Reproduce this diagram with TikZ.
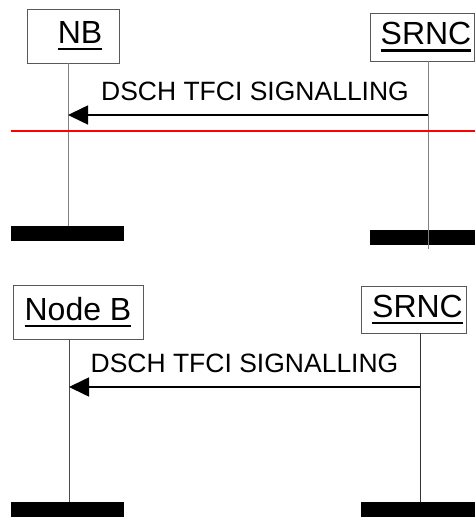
\documentclass[tikz,border=0pt]{standalone}
\usepackage{fontspec}
\setmainfont{Liberation Sans}
\usetikzlibrary{arrows.meta}
\newcommand{\ulname}[1]{\vtop{\hbox{#1}\kern4pt\hrule height 2.5pt}}

\begin{document}
\begin{tikzpicture}[x=1pt, y=-1pt,
    entity/.style={draw=black!65, line width=0.9pt, fill=white, inner sep=0pt, font=\fontsize{32}{36}\selectfont},
    endbar/.style={fill=black, inner sep=0pt, minimum height=15pt},
    lifeline/.style={draw=black!50, line width=1pt},
    msg/.style={-{Triangle[length=20pt, width=19pt]}, line width=1.6pt},
    msglabel/.style={font=\fontsize{26.5}{30}\selectfont, inner sep=0pt, above=13pt}]
    \useasboundingbox (0,0) rectangle (475,526);

    % upper chart
    \node[entity, minimum width=92pt, minimum height=54pt] (nbA) at (73,36) {\hspace{14pt}\ulname{NB}};
    \node[entity, minimum width=104pt, minimum height=48pt] (srncA) at (422,37) {\hspace{8pt}\ulname{SRNC}};
    \node[endbar, minimum width=113pt] (nbAbar) at (67.5,233.5) {};
    \node[endbar, minimum width=105pt] (srncAbar) at (422.5,237.5) {};
    \coordinate (nbAx) at (68,0);
    \coordinate (srncAx) at (428,249);
    \draw[lifeline] (nbAx |- nbA.south) -- (nbAx |- nbAbar.north);
    \draw[lifeline] (srncAx |- srncA.south) -- (srncAx);
    \coordinate (msgAs) at (428,115);
    \coordinate (msgAe) at (68,115);
    \draw[msg] (msgAs) -- node[msglabel, xshift=7pt] {DSCH TFCI SIGNALLING} (msgAe);
    \coordinate (cutL) at (11,131);
    \coordinate (cutR) at (475,131);
    \draw[red, line width=1.5pt] (cutL) -- (cutR);

    % lower chart
    \node[entity, minimum width=130pt, minimum height=54pt] (nbB) at (78,312) {\ulname{Node B}};
    \node[entity, minimum width=105pt, minimum height=47pt] (srncB) at (413.5,309.5) {\hspace{8pt}\ulname{SRNC}};
    \node[endbar, minimum width=113pt] (nbBbar) at (67.5,509.5) {};
    \node[endbar, minimum width=114pt] (srncBbar) at (418,509.5) {};
    \coordinate (nbBx) at (69,0);
    \coordinate (srncBx) at (420,0);
    \draw[lifeline, draw=black!70] (nbBx |- nbB.south) -- (nbBx |- nbBbar.north);
    \draw[lifeline, draw=black!80] (srncBx |- srncB.south) -- (srncBx |- srncBbar.north);
    \coordinate (msgBs) at (420,387);
    \coordinate (msgBe) at (69,387);
    \draw[msg] (msgBs) -- node[msglabel] {DSCH TFCI SIGNALLING} (msgBe);
\end{tikzpicture}
\end{document}
